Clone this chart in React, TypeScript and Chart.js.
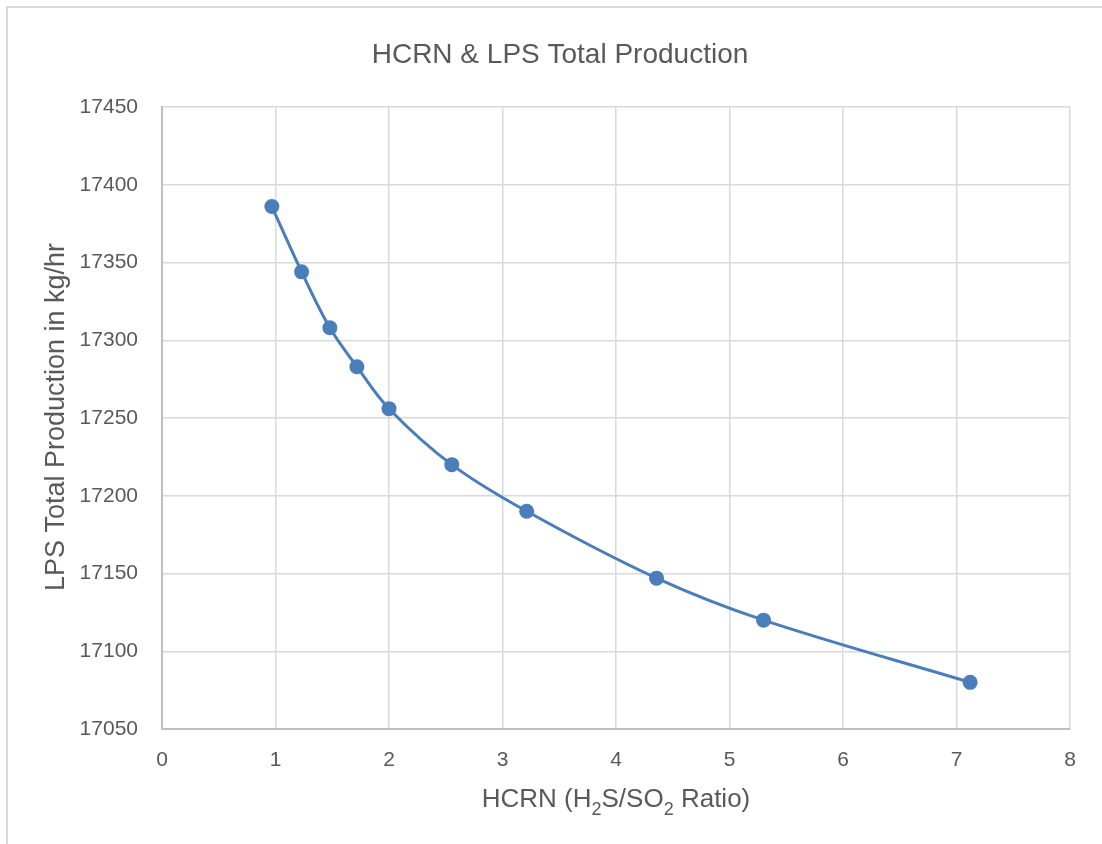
import React, { useEffect, useRef } from "react";
import { Chart, registerables } from "chart.js";

Chart.register(...registerables);

const hcrn = [0.968, 1.23, 1.479, 1.717, 2.0, 2.553, 3.213, 4.357, 5.3, 7.12];
const lpsProduction = [17386, 17344, 17308, 17283, 17256, 17220, 17190, 17147, 17120, 17080];
const xTicks = [0, 1, 2, 3, 4, 5, 6, 7, 8];
const yTicks = [17050, 17100, 17150, 17200, 17250, 17300, 17350, 17400, 17450];

const chartTitle = "HCRN & LPS Total Production";
const yTitle = "LPS Total Production in kg/hr";
const xTitleParts: { text: string; sub: boolean }[] = [
  { text: "HCRN (H", sub: false },
  { text: "2", sub: true },
  { text: "S/SO", sub: false },
  { text: "2", sub: true },
  { text: " Ratio)", sub: false },
];

const FONT = "'Liberation Sans', Arial, sans-serif";
const TEXT_COLOR = "#595959";

const textPlugin = {
  id: "excelTexts",
  beforeDraw(chart: any) {
    const ctx = chart.ctx;
    ctx.save();
    ctx.fillStyle = "#ffffff";
    ctx.fillRect(0, 0, chart.width, chart.height);
    ctx.strokeStyle = "#d9d9d9";
    ctx.lineWidth = 2;
    ctx.strokeRect(7, 7, chart.width + 20, chart.height + 20);
    ctx.restore();
  },
  afterDraw(chart: any) {
    const ctx = chart.ctx;
    const area = chart.chartArea;
    ctx.save();
    ctx.fillStyle = TEXT_COLOR;
    // main title
    ctx.font = `28px ${FONT}`;
    ctx.textAlign = "center";
    ctx.textBaseline = "alphabetic";
    ctx.fillText(chartTitle, 560, 63);
    // y title
    ctx.save();
    ctx.translate(64, 417);
    ctx.rotate(-Math.PI / 2);
    ctx.font = `27px ${FONT}`;
    ctx.fillText(yTitle, 0, 0);
    ctx.restore();
    // x title with subscripts
    const mainSize = 26;
    const subSize = 18;
    let total = 0;
    for (const p of xTitleParts) {
      ctx.font = `${p.sub ? subSize : mainSize}px ${FONT}`;
      total += ctx.measureText(p.text).width;
    }
    let x = (area.left + area.right) / 2 - total / 2;
    ctx.textAlign = "left";
    for (const p of xTitleParts) {
      ctx.font = `${p.sub ? subSize : mainSize}px ${FONT}`;
      ctx.fillText(p.text, x, p.sub ? 815 : 807);
      x += ctx.measureText(p.text).width;
    }
    ctx.restore();
  },
};

export default function App() {
  const canvasRef = useRef<HTMLCanvasElement | null>(null);

  useEffect(() => {
    if (!canvasRef.current) return;
    const points = hcrn.map((x, i) => ({ x, y: lpsProduction[i] }));
    const chart = new Chart(canvasRef.current, {
      type: "scatter",
      data: {
        datasets: [
          {
            label: "LPS Total Production",
            data: points,
            showLine: true,
            borderColor: "#4A7EBB",
            backgroundColor: "#4A7EBB",
            borderWidth: 3,
            pointRadius: 7.5,
            pointHoverRadius: 7.5,
            pointBorderWidth: 0,
            tension: 0.35,
          },
        ],
      },
      options: {
        animation: false,
        responsive: false,
        maintainAspectRatio: false,
        layout: { padding: { top: 107, right: 32, bottom: 0, left: 0 } },
        plugins: {
          legend: { display: false },
          title: { display: false },
          tooltip: { enabled: false },
        },
        scales: {
          x: {
            type: "linear",
            min: xTicks[0],
            max: xTicks[xTicks.length - 1],
            afterBuildTicks: (scale: any) => {
              scale.ticks = xTicks.map((v) => ({ value: v }));
            },
            afterFit: (scale: any) => {
              scale.height = 115;
            },
            grid: { color: "#d9d9d9", lineWidth: 1.5, drawTicks: false },
            border: { display: true, color: "#bfbfbf", width: 2 },
            ticks: {
              color: TEXT_COLOR,
              font: { family: FONT, size: 21 },
              padding: 19,
              maxRotation: 0,
            },
          },
          y: {
            type: "linear",
            min: yTicks[0],
            max: yTicks[yTicks.length - 1],
            afterBuildTicks: (scale: any) => {
              scale.ticks = yTicks.map((v) => ({ value: v }));
            },
            afterFit: (scale: any) => {
              scale.width = 162;
            },
            grid: { color: "#d9d9d9", lineWidth: 1.5, drawTicks: false },
            border: { display: true, color: "#bfbfbf", width: 2 },
            ticks: {
              color: TEXT_COLOR,
              font: { family: FONT, size: 21 },
              padding: 24,
              callback: (v: any) => String(v),
            },
          },
        },
      },
      plugins: [textPlugin],
    });
    return () => chart.destroy();
  }, []);

  return (
    <div style={{ position: "absolute", left: 0, top: 0, width: 1102, height: 844, background: "#fff" }}>
      <canvas ref={canvasRef} width={1102} height={844} style={{ display: "block", width: 1102, height: 844 }} />
    </div>
  );
}
